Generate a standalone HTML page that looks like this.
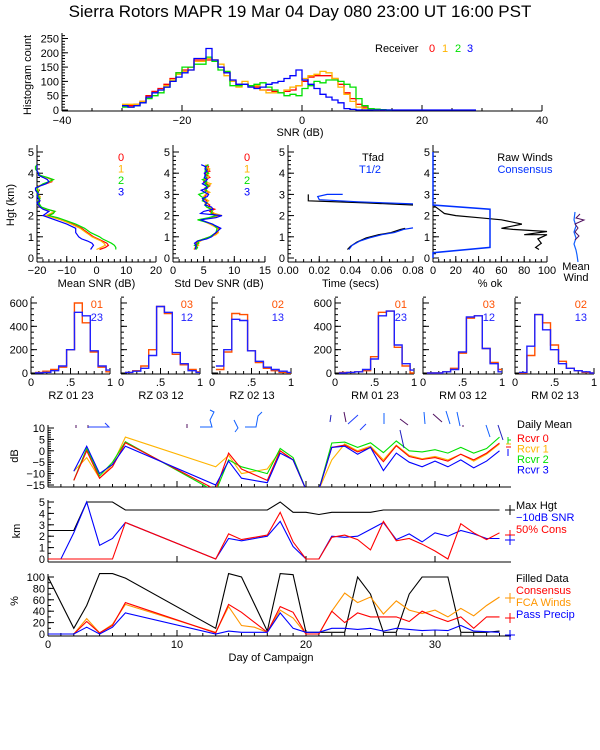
<!DOCTYPE html>
<html><head><meta charset="utf-8"><style>
html,body{margin:0;padding:0;background:#fff}
svg{display:block}
text{font-family:"Liberation Sans",sans-serif;font-size:11px}
</style></head><body>
<svg id="s" width="600" height="750" viewBox="0 0 600 750" xmlns="http://www.w3.org/2000/svg">
<defs><clipPath id="clipA"><rect x="48" y="395" width="470" height="92"/></clipPath></defs>
<text x="300" y="17" text-anchor="middle" style="font-size:17px">Sierra Rotors  MAPR 19 Mar 04 Day 080   23:00 UT   16:00  PST</text>
</svg>
<script>
// ---------- data ----------
const snrBinStart = -30;
const histRed = [15,15,20,30,50,65,75,90,110,130,140,150,175,175,175,175,150,130,100,90,90,85,80,70,70,65,60,65,70,85,100,115,120,120,120,110,90,60,40,20,10,5,2,0];
const histOrange = [20,20,20,30,45,60,70,85,105,125,135,140,170,170,180,175,160,120,100,80,100,85,85,70,60,60,60,70,80,85,110,120,125,135,130,110,80,55,30,10,5,2,0];
const histGreen = [10,10,15,25,40,50,60,80,100,130,150,150,160,160,185,170,140,135,85,85,90,85,90,95,80,70,60,50,55,50,75,85,100,95,105,105,100,90,80,40,15,5,3,1,0];
const histBlue = [15,10,15,25,45,60,70,80,100,115,130,140,180,180,215,175,150,130,105,90,90,80,75,80,90,95,100,110,120,140,105,90,75,55,45,35,25,5,2,0,0,0,0,0,0,0,0,0,0,0,0,0,0,0,0,0,0,0,0];
const histTicks = [-40,-20,0,20,40];

const hgt = [0.4,0.5,0.6,0.7,0.8,0.9,1.0,1.1,1.2,1.4,1.6,1.8,1.9,2.0,2.1,2.2,2.3,2.4,2.5,2.6,2.7,2.8,2.9,3.0,3.1,3.2,3.3,3.4,3.5,3.6,3.7,3.8,3.9,4.0,4.1,4.2,4.3,4.4];
const snrR = [1,3,4,3.5,2,0.5,-1,-2,-3,-5,-8,-12,-14,-17,-15,-14,-17,-19,-19.5,-19.5,-19,-19.5,-19,-20,-19.5,-19.5,-20,-19,-17,-15,-15,-17,-19,-19.5,-20,-20,-20,-20];
const snrO = [0,1.5,3,2.5,1.5,0,-1.5,-2.5,-3.5,-5.5,-8.5,-12,-14.5,-17,-15.5,-14,-17,-19,-19,-19.5,-19.5,-19,-19,-19.5,-20,-19.5,-20,-19.5,-17.5,-15.5,-14.5,-17,-19,-19.5,-20,-20,-20.5,-20];
const snrG = [6.5,6.5,6,5,3.5,2,1,-0.5,-2,-4,-7,-11,-13,-16,-14.5,-14,-16.5,-18.5,-19,-19.5,-19.5,-19,-19.5,-20,-19.5,-20,-20,-19,-18,-16,-14.5,-16.5,-19,-19.5,-20,-20.5,-20.5,-20];
const snrB = [-2,-1.5,-1,-1.5,-3,-5,-6,-6.5,-7,-7,-10,-14,-16,-18,-17,-16,-18,-19,-19.5,-20,-19,-19.5,-20,-19.5,-20,-20.5,-20.5,-19,-17,-16,-16.5,-18,-19.5,-19.5,-20,-20,-20,-20];
const sdR = [3.5,3.8,4,3.8,4.2,5,6,6.8,7.2,7.5,6.2,4.5,6,7.5,6.5,6,6.8,5.8,6,5.5,5.5,5,5.2,5.5,5.8,5.2,5.5,6,5.5,5,5.2,6,5.5,5.2,6,5.5,5.8,5.5];
const sdO = [3.4,3.6,4.2,4,4.5,5.2,6.2,7,7.4,7.3,6,4.4,6.5,8,6.8,6.3,6.5,6,5.5,5.2,5.8,5.3,5,5.3,6,5.4,5.2,5.7,6.2,5.2,5,5.8,5.8,5.5,5.7,6,5.4,5.3];
const sdG = [3.8,4,3.5,4.2,4,5,6,6.5,7,7.2,6.5,4,5.8,7,6.2,6.4,6.2,5.5,5.2,5.6,4.8,5.2,4.6,4.2,5.2,5.5,5.2,5.8,5.2,5.5,4.8,5.5,5.2,5.8,5.2,5.5,5.2,5.8];
const sdB = [3.6,3.7,3.8,3.5,4,5.5,6.3,6.6,7,7.8,6.4,4.5,7,8,4.5,5,6.5,6.3,5.2,5.5,5,4.8,5.6,5.8,5.2,4.6,5.6,5.4,4.8,5.2,5.6,5.1,5.3,5.1,5.6,5.2,5.4,4.6];
const snrTicks = [-20,-10,0,10,20];
const sdTicks = [0,5,10,15];
const hgtTicks = [0,1,2,3,4,5];

const tfadLowT = [0.038,0.040,0.044,0.050,0.058,0.066,0.072,0.075];
const tfadLowH = [0.4,0.55,0.75,0.95,1.1,1.2,1.35,1.4];
const tfadUpT = [0.080,0.050,0.013,0.013];
const tfadUpH = [2.5,2.6,2.7,3.0];
const thalfLowT = [0.039,0.041,0.046,0.052,0.060,0.068,0.074,0.080];
const thalfLowH = [0.4,0.6,0.8,0.95,1.1,1.2,1.35,1.42];
const thalfUpT = [0.080,0.045,0.020,0.019,0.025,0.035];
const thalfUpH = [2.55,2.65,2.75,2.9,3.0,3.0];
const timeTicks = [0,0.02,0.04,0.06,0.08];

const rawPct = [0,5,10,20,40,60,78,60,70,100,80,100,92,95,90,93];
const rawH = [2.5,2.3,2.1,2.0,1.9,1.8,1.6,1.4,1.35,1.25,1.1,1.1,0.9,0.7,0.5,0.4];
const consPct = [0,0,50,50,0,0];
const consH = [5,2.5,2.3,0.5,0.25,0];
const pctTicks = [0,20,40,60,80,100];

const binCenters = [0.1,0.2,0.3,0.4,0.5,0.6,0.7,0.8,0.9,1.0];
const rz0123a = [5,15,30,50,200,600,430,180,50,10];
const rz0123b = [2,5,20,60,200,520,490,190,60,25];
const rz0312a = [5,20,60,200,570,510,160,70,30,10];
const rz0312b = [5,15,40,150,570,520,175,80,20,5];
const rz0213a = [30,180,510,500,190,90,40,20,5,0];
const rz0213b = [60,200,460,450,190,100,50,30,15,5];
const rm0123a = [5,5,10,20,140,520,530,220,60,0];
const rm0123b = [0,5,10,30,120,490,530,240,80,25];
const rm0312a = [0,0,10,40,170,470,490,210,90,30];
const rm0312b = [0,0,10,30,180,480,490,210,80,10];
const rm0213a = [0,150,500,430,240,100,40,20,5,0];
const rm0213b = [5,230,500,370,200,80,40,20,10,0];
const pairNames = ['RZ  01 23','RZ  03 12','RZ  02 13','RM  01 23','RM  03 12','RM  02 13'];
const pairTopLabels = ['01','03','02','01','03','02'];
const pairBotLabels = ['23','12','13','23','12','13'];
const pairTicks = [0,0.5,1];
const pairTickLabels = ['0','.5','1'];
const countTicks = [0,200,400,600];

const days = [0,1,2,3,4,5,6,7,8,9,10,11,12,13,14,15,16,17,18,19,20,21,22,23,24,25,26,27,28,29,30,31,32,33,34,35];
const N = null;
const dm0 = [N,N,-13,0,-12,-7,3.5,N,N,N,N,N,N,-17,-1,-8,N,-13,0,-4,-17,-17,1.5,2.5,-0.5,1.5,-4.8,2.2,-2.5,-3.8,-3,-4.5,-1.5,-4,-1,3.4];
const dm1 = [N,N,-9,-3,-12,-6,6,N,N,N,N,N,N,-7,-2,-10,N,-8,0,-4,-17,-17,-4,3,0,2,-4,2.5,-2,-3.5,-2.5,-4,-1.5,-4.5,-1.5,3];
const dm2 = [N,N,-13,1,-11,-5,4,N,N,N,N,N,N,-18,-4,-7,N,-10,1,-3,-17,-17,3.4,3.8,1.5,3.5,-0.8,4.3,0,-0.5,0.5,-1,1.5,-1,1,6];
const dm3 = [N,N,-9,2,-10,-6,2,N,N,N,N,N,N,-15,-4.5,-12,N,-14,-1,-4,-17,-17,1.5,2,-1.5,1.5,-8.7,-1,-5,-7,-4.5,-7,-4,-7.5,-4.5,0];
const maxHgt = [2.5,2.5,2.5,5,5,5,4.3,N,N,N,N,N,N,4.3,4.3,4.3,N,4.3,5,4.1,4.1,3.9,4.1,4.1,4.1,4.1,4.3,4.3,4.3,4.3,4.3,4.3,4.3,4.3,4.3,4.3];
const snr10 = [0,0,2.3,5,1.2,1.8,3.2,N,N,N,N,N,N,0,1.8,1.6,N,2,3.3,1.1,0,0,2,1.9,2,2.6,3.2,1.7,2.2,1.5,2.3,2,2.5,2.2,1.8,1.8];
const cons50 = [0,0,0,0,0,0,3.2,N,N,N,N,N,N,0,2.2,1.7,N,2.1,4.1,1.5,0,0,1.9,2.1,1.7,0.8,3.3,1.6,1.8,1.3,0.7,0,3.1,2.3,1.7,2.3];
const filled = [100,N,10,50,106,106,98,N,N,N,N,N,N,10,106,100,N,5,106,104,3,3,3,3,100,70,3,3,70,100,100,100,3,3,3,5];
const consPctD = [0,N,0,22,2,15,55,N,N,N,N,N,N,2,52,38,N,3,48,38,0,0,40,20,37,30,30,30,22,40,30,22,30,10,30,30];
const fcaPct = [0,N,0,27,2,17,52,N,N,N,N,N,N,3,48,15,12,3,42,28,0,0,40,72,55,65,35,58,42,36,42,30,45,32,50,65];
const precipPct = [0,N,0,12,0,12,37,N,N,N,N,N,N,0,5,3,N,3,37,10,3,3,10,10,8,10,5,10,8,6,7,6,15,5,4,3];
const dayTicks = [0,10,20,30];
const dbTicks = [10,5,0,-5,-10,-15];
const kmTicks = [0,1,2,3,4,5];
const pctTicksB = [0,20,40,60,80,100];

// ---------- helpers ----------
const NS = 'http://www.w3.org/2000/svg';
const svg = document.getElementById('s');
function mk(tag, name, parent) {
  const e = document.createElementNS(NS, tag);
  
  
  (parent || svg).appendChild(e);
  return e;
}
function ln(x1, y1, x2, y2, c, name) {
  const e = mk('line', name);
  e.setAttribute('x1', x1); e.setAttribute('y1', y1); e.setAttribute('x2', x2); e.setAttribute('y2', y2);
  e.setAttribute('stroke', c || '#000'); e.setAttribute('stroke-width', 1);
  return e;
}
function tx(x, y, s, name, o) {
  o = o || {};
  const e = mk('text', name);
  e.setAttribute('x', x); e.setAttribute('y', y);
  e.setAttribute('fill', o.fill || '#000');
  e.setAttribute('text-anchor', o.anchor || 'middle');
  if (o.size) e.style.fontSize = o.size + 'px';
  if (o.rot) e.setAttribute('transform', 'rotate(-90 ' + x + ' ' + y + ')');
  e.textContent = s;
  return e;
}
function poly(xs, ys, c, name, w, clip) {
  // splits on null
  let seg = [];
  const segs = [];
  for (let i = 0; i < xs.length; i++) {
    if (ys[i] === null || xs[i] === null) continue;
    seg.push(xs[i].toFixed(1) + ',' + ys[i].toFixed(1));
  }
  segs.push(seg);
  const e = mk('polyline', name);
  e.setAttribute('points', seg.join(' '));
  e.setAttribute('fill', 'none'); e.setAttribute('stroke', c); e.setAttribute('stroke-width', w || 1.2);
  if (clip) e.setAttribute('clip-path', 'url(#' + clip + ')');
  return e;
}
function yAxis(x, y0, y1, ticksPx, minorPx, labels, name) {
  ln(x, y0, x, y1, '#000', name + '-line');
  minorPx.forEach(y => ln(x, y, x + 3, y, '#000', name + '-minor-tick'));
  ticksPx.forEach((y, i) => {
    ln(x, y, x + 6, y, '#000', name + '-tick');
    if (labels) tx(x - 3, y + 4, labels[i], name + '-label', {anchor: 'end'});
  });
}
function xAxis(y, x0, x1, ticksPx, minorPx, labels, labY, name) {
  ln(x0, y, x1, y, '#000', name + '-line');
  minorPx.forEach(x => ln(x, y, x, y - 3, '#000', name + '-minor-tick'));
  ticksPx.forEach((x, i) => {
    ln(x, y, x, y - 6, '#000', name + '-tick');
    if (labels) tx(x, labY, labels[i], name + '-label');
  });
}
function range(a, b, s) { const r = []; for (let v = a; v <= b + 1e-9; v += s) r.push(v); return r; }
function fmtNeg(v) { return v < 0 ? '\u2212' + Math.abs(v) : '' + v; }

// ---------- top histogram ----------
const hX = v => 62 + (v + 40) * 6;
const hY = c => 110 - c * 0.286;
yAxis(62, 111, 33, [0,50,100,150,200,250].map(hY), range(0,260,10).map(hY), ['0','50','100','150','200','250'], 'histogram-y-axis');
xAxis(111, 62, 542, histTicks.map(hX), range(-40,40,5).map(hX), histTicks.map(fmtNeg), 124, 'histogram-x-axis');
tx(300, 136, 'SNR (dB)', 'histogram-x-title');
tx(31, 75, 'Histogram count', 'histogram-y-title', {rot: true});
function stepHist(vals, c, name) {
  const xs = [], ys = [];
  vals.forEach((v, i) => { const b = snrBinStart + i; xs.push(hX(b)); ys.push(hY(v)); xs.push(hX(b + 1)); ys.push(hY(v)); });
  poly(xs, ys, c, name, 1.3);
}
stepHist(histRed, '#ff0000', 'histogram-receiver-0');
stepHist(histOrange, '#ffb400', 'histogram-receiver-1');
stepHist(histGreen, '#00e000', 'histogram-receiver-2');
stepHist(histBlue, '#0000ff', 'histogram-receiver-3');
tx(375, 52, 'Receiver', 'histogram-legend-title', {anchor: 'start'});
tx(429, 52, '0', 'histogram-legend-0', {fill: '#ff0000', anchor: 'start'});
tx(442, 52, '1', 'histogram-legend-1', {fill: '#ffb400', anchor: 'start'});
tx(455, 52, '2', 'histogram-legend-2', {fill: '#00e000', anchor: 'start'});
tx(467, 52, '3', 'histogram-legend-3', {fill: '#0000ff', anchor: 'start'});

// ---------- profile row ----------
const pY = h => 258 - h * 21.2;
const hTickPx = hgtTicks.map(pY);
const hMinor = range(0, 5.1, 0.2).map(pY);
const hLabels = hgtTicks.map(String);
function profPanel(x0, x1, name, xt, xl, xfn, minorVals, title) {
  yAxis(x0, 262, 145, hTickPx, hMinor, hLabels, name + '-y-axis');
  xAxis(262, x0, x1, xt.map(xfn), minorVals.map(xfn), xl, 274, name + '-x-axis');
  tx((x0 + x1) / 2, 287, title, name + '-x-title');
}
const sX = v => 37 + (v + 20) * 2.975;
const dX = v => 173 + v * 6.13;
const tX = v => 288 + v / 0.08 * 125;
const kX = v => 433 + v * 1.14;
profPanel(37, 156, 'mean-snr', snrTicks, snrTicks.map(fmtNeg), sX, range(-20,20,2), 'Mean SNR (dB)');
profPanel(173, 265, 'stddev-snr', sdTicks, sdTicks.map(String), dX, range(0,15,1), 'Std Dev SNR (dB)');
profPanel(288, 413, 'time', timeTicks, timeTicks.map(v => v.toFixed(2)), tX, range(0,0.08,0.005), 'Time (secs)');
profPanel(433, 547, 'pct-ok', pctTicks, pctTicks.map(String), kX, range(0,100,5), '% ok');
tx(14, 205, 'Hgt (km)', 'profile-y-title', {rot: true});
poly(snrR.map(sX), hgt.map(pY), '#ff0000', 'mean-snr-rcvr-0');
poly(snrO.map(sX), hgt.map(pY), '#ffb400', 'mean-snr-rcvr-1');
poly(snrG.map(sX), hgt.map(pY), '#00e000', 'mean-snr-rcvr-2');
poly(snrB.map(sX), hgt.map(pY), '#0000ff', 'mean-snr-rcvr-3');
poly(sdR.map(dX), hgt.map(pY), '#ff0000', 'stddev-rcvr-0');
poly(sdO.map(dX), hgt.map(pY), '#ffb400', 'stddev-rcvr-1');
poly(sdG.map(dX), hgt.map(pY), '#00e000', 'stddev-rcvr-2');
poly(sdB.map(dX), hgt.map(pY), '#0000ff', 'stddev-rcvr-3');
[['0','#ff0000'],['1','#ffb400'],['2','#00e000'],['3','#0000ff']].forEach((l, i) => {
  tx(121, 161 + i * 11.5, l[0], 'mean-snr-legend-' + l[0], {fill: l[1]});
  tx(247, 161 + i * 11.5, l[0], 'stddev-legend-' + l[0], {fill: l[1]});
});
poly(tfadLowT.map(tX), tfadLowH.map(pY), '#000', 'tfad-lower');
poly(tfadUpT.map(tX), tfadUpH.map(pY), '#000', 'tfad-upper');
poly(thalfLowT.map(tX), thalfLowH.map(pY), '#0030ff', 'thalf-lower');
poly(thalfUpT.map(tX), thalfUpH.map(pY), '#0030ff', 'thalf-upper');
tx(373, 161, 'Tfad', 'time-legend-tfad');
tx(370, 173, 'T1/2', 'time-legend-thalf', {fill: '#0030ff'});
poly(rawPct.map(kX), rawH.map(pY), '#000', 'raw-winds-profile');
poly(consPct.map(kX), consH.map(pY), '#0030ff', 'consensus-profile', 1.5);
tx(525, 161, 'Raw Winds', 'pct-legend-raw');
tx(525, 173, 'Consensus', 'pct-legend-consensus', {fill: '#0030ff'});
// mean wind barbs
const mw = mk('polyline', 'mean-wind-profile');
mw.setAttribute('points', '578,262 577,255 576,250 574,244 576,238 574,232 576,226 574,220 575,212');
mw.setAttribute('fill', 'none'); mw.setAttribute('stroke', '#1060ff'); mw.setAttribute('stroke-width', 1.2);
const mw2 = mk('polyline', 'mean-wind-barbs');
mw2.setAttribute('points', '575,240 579,236 575,232 578,228 575,224 584,220 576,218 580,214');
mw2.setAttribute('fill', 'none'); mw2.setAttribute('stroke', '#501060'); mw2.setAttribute('stroke-width', 1);
tx(576, 270, 'Mean', 'mean-wind-label-1');
tx(576, 281, 'Wind', 'mean-wind-label-2');

// ---------- pair histograms ----------
const origins = [31, 121, 212, 335, 423, 515];
const pairA = [rz0123a, rz0312a, rz0213a, rm0123a, rm0312a, rm0213a];
const pairB = [rz0123b, rz0312b, rz0213b, rm0123b, rm0312b, rm0213b];
const cY = c => 373 - c * 0.1167;
origins.forEach((o, k) => {
  const fx = v => o + v * 79;
  yAxis(o, 374, 298, countTicks.map(cY), range(0,650,50).map(cY), (k === 0 || k === 3) ? countTicks.map(String) : null, 'pair-' + k + '-y-axis');
  xAxis(374, o, o + 79, pairTicks.map(fx), range(0,1,0.1).map(fx), pairTickLabels, 386, 'pair-' + k + '-x-axis');
  tx(o + 40, 399, pairNames[k], 'pair-' + k + '-title');
  tx(o + 72, 308, pairTopLabels[k], 'pair-' + k + '-legend-a', {fill: '#ff5000', anchor: 'end'});
  tx(o + 72, 321, pairBotLabels[k], 'pair-' + k + '-legend-b', {fill: '#2020ff', anchor: 'end'});
  [[pairA[k], '#ff5000', 'a'], [pairB[k], '#2020ff', 'b']].forEach(s => {
    const xs = [], ys = [];
    s[0].forEach((v, i) => {
      const c = binCenters[i];
      xs.push(fx(c - 0.05)); ys.push(cY(v));
      xs.push(fx(Math.min(c + 0.05, 1))); ys.push(cY(v));
    });
    poly(xs, ys, s[1], 'pair-' + k + '-hist-' + s[2], 1.4);
  });
});

// ---------- time series ----------
const X = d => 48 + d * 12.9;
const yA = v => 428 + (10 - v) * 2.28;
const yB = v => 559 - v * 11.4;
const yC = v => 634 - v * 0.57;
const dayPx = days.map(X);
function yv(arr, f) { return arr.map(v => v === null ? null : f(v)); }
yAxis(48, 487, 425, dbTicks.map(yA), range(-15,10,1).map(yA), dbTicks.map(fmtNeg), 'db-y-axis');
xAxis(487, 48, 511, dayTicks.map(X), days.map(X), null, 0, 'db-x-axis');
yAxis(48, 562, 500, kmTicks.map(yB), range(0,5,0.5).map(yB), kmTicks.map(String), 'km-y-axis');
xAxis(562, 48, 511, dayTicks.map(X), [], null, 0, 'km-x-axis');
yAxis(48, 636, 574, pctTicksB.map(yC), range(0,100,10).map(yC), pctTicksB.map(String), 'pct-y-axis');
xAxis(636, 48, 511, dayTicks.map(X), days.map(X), dayTicks.map(String), 648, 'pct-x-axis');
tx(18, 456, 'dB', 'db-y-title', {rot: true});
tx(20, 531, 'km', 'km-y-title', {rot: true});
tx(18, 601, '%', 'pct-y-title', {rot: true});
tx(271, 661, 'Day of Campaign', 'day-x-title');
poly(dayPx, yv(dm1, yA), '#ffb400', 'daily-rcvr-1', 1.1, 'clipA');
poly(dayPx, yv(dm2, yA), '#00e000', 'daily-rcvr-2', 1.1, 'clipA');
poly(dayPx, yv(dm0, yA), '#ff0000', 'daily-rcvr-0', 1.1, 'clipA');
poly(dayPx, yv(dm3, yA), '#0000ff', 'daily-rcvr-3', 1.1, 'clipA');
poly(dayPx, yv(maxHgt, yB), '#000', 'max-hgt-series', 1.1);
poly(dayPx, yv(snr10, yB), '#0000ff', 'snr10-series', 1.1);
poly(dayPx, yv(cons50, yB), '#ff0000', 'cons50-series', 1.1);
poly(dayPx, yv(filled, yC), '#000', 'filled-data-series', 1.1);
poly(dayPx, yv(fcaPct, yC), '#ff9600', 'fca-winds-series', 1.1);
poly(dayPx, yv(consPctD, yC), '#ff0000', 'consensus-pct-series', 1.1);
poly(dayPx, yv(precipPct, yC), '#0000ff', 'pass-precip-series', 1.1);
// wind barbs above dB panel
const barbs = [
  ['76,425 76,428', '#501060'], ['88,425 88,428', '#501060'], ['88,427 109,427 105,423', '#2040ff'],
  ['187,424 187,428', '#501060'], ['200,427 212,427 210,420 214,412 210,410', '#1060ff'],
  ['234,420 238,428 235,432', '#1060ff'], ['245,427 256,427 258,416 262,412', '#1060ff'],
  ['330,422 331,415', '#2020c0'], ['344,412 346,422', '#501060'], ['348,424 358,415', '#2040ff'],
  ['384,413 384,424', '#1060ff'], ['400,419 408,425', '#501060'], ['424,412 425,424', '#1060ff'],
  ['433,414 442,422', '#501060'], ['446,411 450,424', '#1060ff'], ['457,412 460,426', '#1060ff'],
  ['463,425 463,427', '#501060'], ['486,425 490,437', '#1060ff'], ['498,425 503,440', '#2020c0'],
  ['360,430 366,424', '#2040ff'], ['400,430 404,448', '#2020c0']
];
barbs.forEach(b => {
  const e = mk('polyline', 'wind-barb');
  e.setAttribute('points', b[0]); e.setAttribute('fill', 'none'); e.setAttribute('stroke', b[1]); e.setAttribute('stroke-width', 1);
});
// right legends
tx(517, 428, 'Daily Mean', 'legend-daily-mean', {anchor: 'start'});
[['Rcvr 0','#ff0000'],['Rcvr 1','#ffb400'],['Rcvr 2','#00e000'],['Rcvr 3','#0000ff']].forEach((l, i) => {
  tx(517, 442 + i * 10.5, l[0], 'legend-rcvr-' + i, {fill: l[1], anchor: 'start'});
});
ln(508, 437, 508, 444, '#00e000', 'marker-rcvr-2'); ln(508, 440, 511, 440, '#00e000', 'marker-rcvr-2-tick');
ln(506, 444, 511, 444, '#ffb400', 'marker-rcvr-1');
ln(506, 447, 511, 447, '#ff0000', 'marker-rcvr-0');
ln(508, 449, 508, 456, '#0000ff', 'marker-rcvr-3');
tx(516, 509, 'Max Hgt', 'legend-max-hgt', {anchor: 'start'});
tx(516, 521, '\u221210dB SNR', 'legend-snr10', {fill: '#0000ff', anchor: 'start'});
tx(516, 533, '50% Cons', 'legend-cons50', {fill: '#ff0000', anchor: 'start'});
function plus(x, y, c, name) { ln(x - 5, y, x + 5, y, c, name + '-h'); ln(x, y - 5, x, y + 5, c, name + '-v'); }
plus(510, 510, '#000', 'marker-max-hgt');
plus(510, 535, '#ff0000', 'marker-cons50');
plus(510, 540, '#0000ff', 'marker-snr10');
tx(516, 582, 'Filled Data', 'legend-filled', {anchor: 'start'});
tx(516, 594, 'Consensus', 'legend-consensus', {fill: '#ff0000', anchor: 'start'});
tx(516, 606, 'FCA Winds', 'legend-fca', {fill: '#ff9600', anchor: 'start'});
tx(516, 618, 'Pass Precip', 'legend-precip', {fill: '#0000ff', anchor: 'start'});
plus(510, 598, '#ff9600', 'marker-fca');
plus(510, 618, '#ff0000', 'marker-consensus');
plus(510, 635, '#0000ff', 'marker-precip');
</script>
</body></html>
